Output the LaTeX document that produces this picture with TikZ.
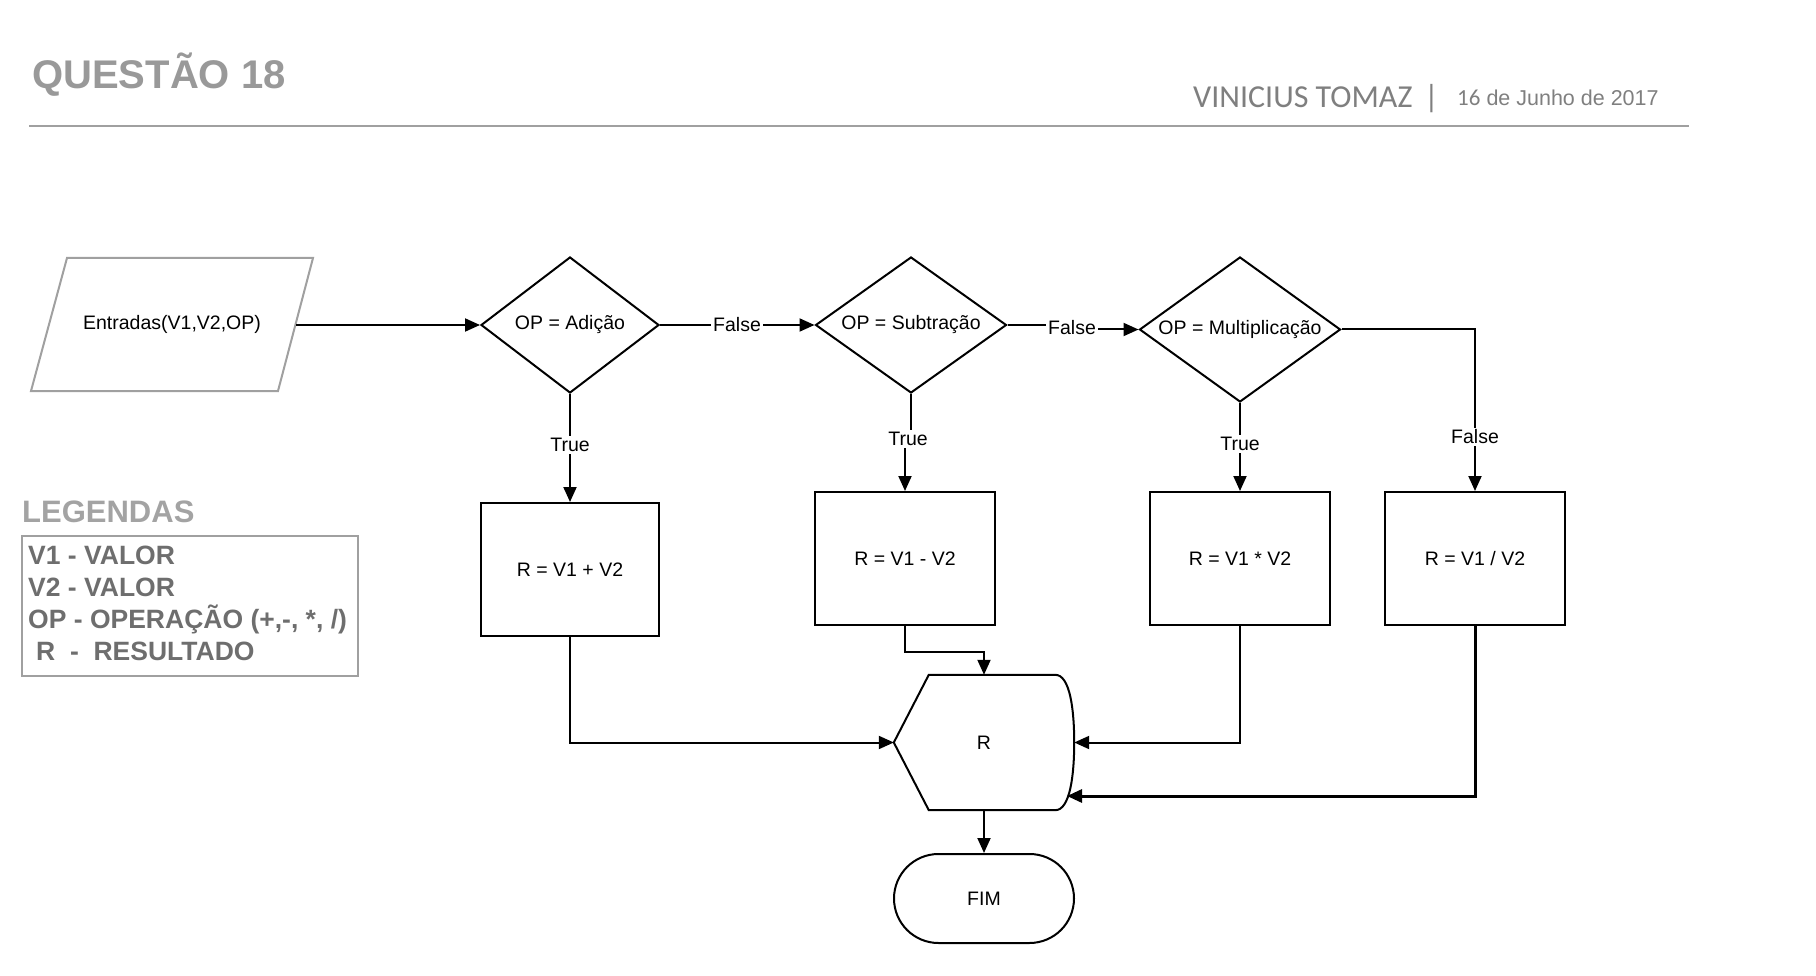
\documentclass[tikz,border=0pt]{standalone}
\usepackage{fontspec}
\setmainfont{Liberation Sans}
\newfontfamily\namefont{Carlito}
\usetikzlibrary{shapes.geometric,shapes.misc,arrows.meta,calc}

\definecolor{titlegray}{HTML}{999999}
\definecolor{namegray}{HTML}{7F7F7F}
\definecolor{rulegray}{HTML}{A0A0A0}
\definecolor{legtitle}{HTML}{A3A3A3}
\definecolor{legtext}{HTML}{6E6E6E}

\begin{document}
\begin{tikzpicture}[x=1pt,y=-1pt,
  every node/.style={font=\fontsize{19.5}{23}\selectfont},
  flowbox/.style={draw, line width=2pt, fill=white, rectangle, inner sep=0pt},
  decision/.style={draw, line width=2pt, fill=white, diamond, inner sep=0pt},
  arr/.style={line width=2pt, -{Triangle[length=15pt,width=13pt]}},
  edgelbl/.style={fill=white, inner sep=2pt}
]
\useasboundingbox (0,0) rectangle (1816,976);

% header
\node[anchor=base west, inner sep=0, text=titlegray,
      font=\fontsize{40}{48}\selectfont\bfseries] (title) at (32,89) {QUESTÃO 18};
\node[anchor=base west, inner sep=0, text=namegray,
      font=\fontsize{32}{38}\namefont] (author) at (1193,108) {VINICIUS TOMAZ};
\node[anchor=base west, inner sep=0, text=namegray,
      font=\fontsize{32}{38}\namefont] (sep) at (1424,108) {|};
\node[anchor=base west, inner sep=0, text=namegray,
      font=\fontsize{21.5}{26}\selectfont] (date) at (1457,106)
      {{\namefont\fontsize{23}{26}\selectfont 16} de Junho de 2017};
\draw[rulegray, line width=2.5pt] (29,126) -- (1689,126);

% input
\node[inner sep=0, minimum width=250, minimum height=130] (in) at (172,324.5) {Entradas(V1,V2,OP)};
\draw[rulegray, line width=2pt] (67,258) -- (313,258) -- (278,391) -- (31,391) -- cycle;
\coordinate (inE) at (296,325);

% decisions (outline sized independently of the text)
\node[decision, minimum width=178, minimum height=136] (d1) at (570,325) {};
\node[decision, minimum width=191, minimum height=136] (d2) at (911,325) {};
\node[decision, minimum width=201, minimum height=145] (d3) at (1240,329.5) {};
\node (d1t) at (d1) {OP = Adição};
\node (d2t) at (d2) {OP = Subtração};
\node (d3t) at (d3) {OP = Multiplicação};

% processes
\node[flowbox, minimum width=178, minimum height=133] (b1) at (570,569.5) {R = V1 + V2};
\node[flowbox, minimum width=180, minimum height=133] (b2) at (905,558.5) {R = V1 - V2};
\node[flowbox, minimum width=180, minimum height=133] (b3) at (1240,558.5) {R = V1 * V2};
\node[flowbox, minimum width=180, minimum height=133] (b4) at (1475,558.5) {R = V1 / V2};

% display
\node[inner sep=0, minimum width=180, minimum height=135] (R) at (984,742.5) {};
\draw[line width=2pt, fill=white]
  (R.west) -- ($(R.north west)+(35,0)$) -- ($(R.north east)+(-19,0)$)
  .. controls ($(R.north east)+(-4,0)$) and ($(R.east)+(0,-32)$) .. (R.east)
  .. controls ($(R.east)+(0,32)$) and ($(R.south east)+(-4,0)$) .. ($(R.south east)+(-19,0)$)
  -- ($(R.south west)+(35,0)$) -- cycle;
\node (Rt) at (R) {R};
\coordinate (Rlow) at (1067,796);

% terminator
\node[draw, line width=2pt, rounded rectangle, minimum width=180, minimum height=89, inner sep=0] (fim) at (984,898.5) {FIM};

% label positions
\coordinate (f1) at (737,325);
\coordinate (f2) at (1072,327.5);
\coordinate (f3) at (1475,437);
\coordinate (t1) at (570,445);
\coordinate (t2) at (908,439);
\coordinate (t3) at (1240,444);

% connectors
\draw[arr] (inE) -- (d1.west);
\draw[arr] (d1.east) -- (d2.west);
\draw[arr] (d2.east) -| (f2) |- (d3.west);
\draw[arr] (d3.east) -| (b4.north);
\draw[arr] (d1.south) -- (b1.north);
\draw[arr] (d2.south) |- (t2) -| (b2.north);
\draw[arr] (d3.south) -- (b3.north);
\draw[arr] (b1.south) |- (R.west);
\draw[arr] (b2.south) -- ++(0,26) -| (R.north);
\draw[arr] (b3.south) |- (R.east);
\draw[arr, line width=3pt] (b4.south) |- (Rlow);
\draw[arr] (R.south) -- (fim.north);

% connector labels
\node[edgelbl] at (f1) {False};
\node[edgelbl] at (f2) {False};
\node[edgelbl] at (f3) {False};
\node[edgelbl] at (t1) {True};
\node[edgelbl] at (t2) {True};
\node[edgelbl] at (t3) {True};

% legend
\node[anchor=base west, inner sep=0, text=legtitle,
      font=\fontsize{31}{36}\selectfont\bfseries] (legt) at (22,522) {LEGENDAS};
\draw[rulegray, line width=2pt] (22,536) rectangle (358,676);
\begin{scope}[every node/.style={anchor=base west, inner sep=0, text=legtext,
      font=\fontsize{26.5}{32}\selectfont\bfseries}]
  \node (l1) at (28,564) {V1 - VALOR};
  \node (l2) at (28,596) {V2 - VALOR};
  \node (l3) at (28,628) {OP - OPERAÇÃO (+,-, *, /)};
  \node (l4) at (36,660) {R\ \ -\ \ RESULTADO};
\end{scope}
\end{tikzpicture}
\end{document}
